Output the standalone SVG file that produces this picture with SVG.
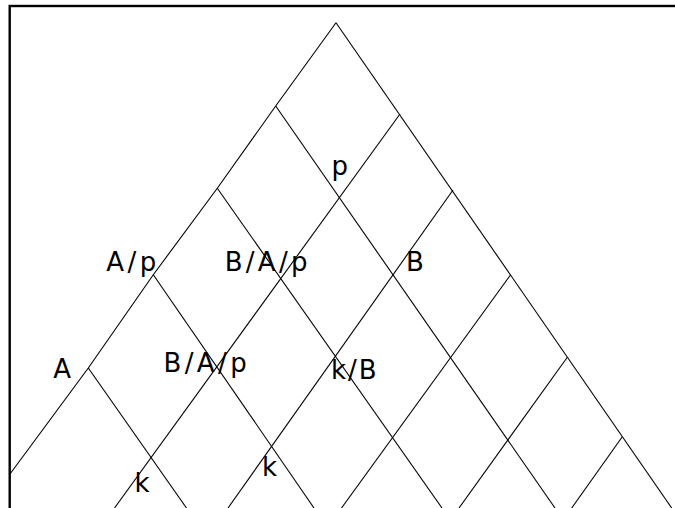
<svg xmlns="http://www.w3.org/2000/svg" width="675" height="508" viewBox="0 0 675 508">
<style>
.ln{stroke:#000;stroke-width:1.1;fill:none;stroke-linecap:butt}
.lb{font-family:"DejaVu Sans",sans-serif;font-size:26px;fill:#000}
</style>
<rect x="0" y="0" width="675" height="508" fill="#fff"/>
<rect id="frame" x="9.7" y="6" width="720" height="620" fill="none" stroke="#000" stroke-width="2.4"/>
<g id="connectors">
<polyline class="ln" points="336,22.7 275.7,106 217.3,188.3 153.3,274.7 88.3,368 10,474"/>
<line class="ln" x1="336" y1="22.7" x2="671.7" y2="508"/>
<line class="ln" x1="275.7" y1="106" x2="555" y2="508"/>
<line class="ln" x1="217.3" y1="188.3" x2="442" y2="508"/>
<line class="ln" x1="153.3" y1="274.7" x2="314" y2="508"/>
<line class="ln" x1="88.3" y1="368" x2="186.5" y2="508"/>
<line class="ln" x1="400" y1="114" x2="114.5" y2="508"/>
<line class="ln" x1="453" y1="190" x2="228" y2="508"/>
<line class="ln" x1="510.7" y1="274.7" x2="341.5" y2="508"/>
<line class="ln" x1="567.3" y1="357.3" x2="459" y2="508"/>
<line class="ln" x1="622.3" y1="436.7" x2="571.7" y2="508"/>
</g>
<g id="label-p"><text class="lb" x="331.6" y="175">p</text></g>
<g id="label-Ap"><text class="lb" x="106.3" y="271" textLength="50" lengthAdjust="spacing">A/p</text></g>
<g id="label-BAp-upper"><text class="lb" x="224.8" y="271" textLength="82.6" lengthAdjust="spacing">B/A/p</text></g>
<g id="label-B"><text class="lb" x="405.9" y="271">B</text></g>
<g id="label-A"><text class="lb" x="53.2" y="378">A</text></g>
<g id="label-BAp-lower"><text class="lb" x="163.4" y="372" textLength="83.3" lengthAdjust="spacing">B/A/p</text></g>
<g id="label-kB"><text class="lb" x="331.1" y="378.5" textLength="45.4" lengthAdjust="spacing">k/B</text></g>
<g id="label-k-left"><text class="lb" x="134.6" y="492">k</text></g>
<g id="label-k-mid"><text class="lb" x="262.1" y="476">k</text></g>
</svg>
